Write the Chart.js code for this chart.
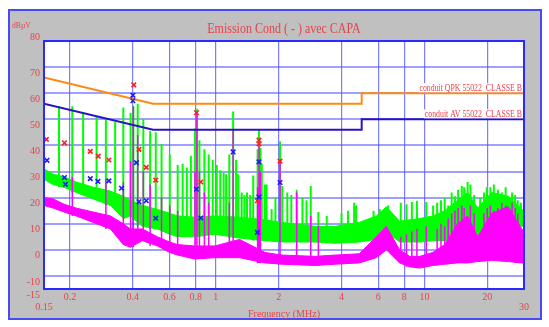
<!DOCTYPE html>
<html>
<head>
<meta charset="utf-8">
<script src="https://cdn.jsdelivr.net/npm/chart.js@4.4.1/dist/chart.umd.min.js"></script>
<style>
  html, body { margin: 0; padding: 0; background: #fff; }
  #wrap { width: 549px; height: 327px; }
</style>
</head>
<body>
<div id="wrap"><canvas id="chart" width="549" height="327"></canvas></div>
<script>
// EN 55022 class B conducted limits (dBuV)
const limitFreq = [0.15, 0.5, 5, 5, 30];
const qpkLimit = [66, 56, 56, 60, 60];
const avLimit = [56, 46, 46, 50, 50];

// measured points (MHz, dBuV)
const qpkMarkFreq = [0.154, 0.188, 0.25, 0.273, 0.307, 0.404, 0.428, 0.464, 0.515, 0.807, 0.847, 1.58, 1.61, 1.61, 2.03];
const qpkMarkVal = [42.3, 41, 37.7, 35.9, 34.4, 63.2, 38.5, 31.6, 26.7, 52.5, 26, 18.8, 42, 40.6, 34];
const avMarkFreq = [0.155, 0.188, 0.19, 0.25, 0.272, 0.307, 0.353, 0.40, 0.40, 0.416, 0.428, 0.464, 0.515, 0.807, 0.847, 1.21, 1.61, 1.61, 1.58, 2.03];
const avMarkVal = [34.3, 27.7, 25.1, 27.3, 26.2, 26.4, 23.6, 59.2, 57.1, 33.4, 18.4, 18.8, 12.1, 23.2, 12.2, 37.5, 33.7, 20.3, 6.7, 25.8];

// scan traces: noise band (low / high)
const bandFreq = [0.15, 0.166, 0.187, 0.214, 0.258, 0.312, 0.36, 0.389, 0.444, 0.525, 0.6, 0.656, 0.79, 0.99, 1.3, 1.72, 2.07, 3.0, 3.73, 4.87, 5.88, 6.57, 7.6, 8.5, 9.49, 10.96, 12.5, 14.4, 16.1, 18.0, 21.0, 25.2, 29.3, 30];
const greenHigh = [31, 29, 28, 26, 24, 22.5, 20.5, 19, 17, 15.5, 14, 13, 12.5, 13, 12.5, 11.5, 10.5, 9, 9, 10.5, 13, 16.5, 11, 11.5, 12, 13, 15, 19, 22, 16, 22, 20.5, 15.5, 15];
const greenLow = [27, 25, 24, 22, 19.5, 17, 12, 13, 9, 8, 6, 5, 5, 6, 4.5, 3.5, 3, 3, 2.5, 3, 4, 7, 3, 3, 3, 3.5, 3.5, 4, 7, 4, 9, 12, 9, 9];
const magentaHigh = [20, 19.5, 17.5, 16, 14.5, 13, 10, 8, 8, 5, 3, 2, 1.5, 1.5, 4, -1, -2, -2.5, -2, -1.5, 5, 9, 0, -2.5, -2.5, -1, 2, 10, 13, 5, 14, 16.5, 8, 7];
const magentaLow = [17, 16, 14.5, 13, 10.5, 8, 2, 1, 3.5, 1.5, -1, -2, -3.5, -3, -3, -5, -5.5, -6, -5.5, -5, -3, 0, -5, -6.5, -7, -6, -5.5, -5, -5, -4.5, -4, -4.5, -5, -5];

// harmonic spikes
const greenSpikeFreq = [0.177, 0.205, 0.231, 0.268, 0.297, 0.329, 0.36, 0.39, 0.402, 0.422, 0.449, 0.484, 0.515, 0.549, 0.601, 0.656, 0.693, 0.726, 0.759, 0.794, 0.811, 0.834, 0.881, 0.924, 0.966, 1.01, 1.05, 1.09, 1.12, 1.16, 1.21, 1.25, 1.28, 1.33, 1.37, 1.41, 1.46, 1.51, 1.585, 1.61, 1.635, 1.66, 1.72, 1.75, 1.85, 1.93, 2.03, 2.08, 2.2, 2.3, 2.44, 2.6, 2.72, 2.85, 3.1, 3.4, 4.0, 4.3, 4.6, 4.7, 5.7, 6.1, 6.7, 7.7, 8.2, 8.7, 9.2, 10.2, 11.0, 11.5, 12.0, 12.5, 13.0, 13.5, 14.0, 14.5, 15.1, 15.5, 16.1, 16.6, 17.3, 18.5, 19.3, 19.9, 20.7, 21.5, 22.5, 23.5, 24.5, 26.3, 27.2, 28.0, 29.0];
const greenSpikePeak = [55, 55, 52.5, 51, 50, 49, 54.5, 52.5, 55, 56, 50, 45.5, 45, 40.5, 36.5, 32.5, 33, 31.5, 36, 46.5, 54, 42, 38.5, 36.5, 34.5, 32.5, 30.5, 29.5, 29, 36.5, 53, 34.5, 29, 22, 21, 22, 21, 28.5, 38.5, 46, 39, 33, 25, 25, 15.6, 20, 41.5, 24.5, 22, 21, 23, 20, 19, 24.5, 14.5, 13, 14, 15, 18, 17, 15, 15.6, 17, 18, 17.5, 18.3, 18.8, 18.3, 17, 18, 19, 20, 17, 22, 20.5, 23, 24.5, 24, 26, 25, 21, 20, 22, 24, 24, 25, 23, 22, 24, 22, 21, 19, 18];
const magentaSpikeFreq = [0.205, 0.297, 0.36, 0.39, 0.402, 0.422, 0.449, 0.484, 0.549, 0.601, 0.656, 0.794, 0.811, 0.834, 0.881, 0.924, 1.16, 1.21, 1.585, 1.61, 1.635, 2.03, 2.44, 2.85, 3.1, 7.7, 8.2, 8.7, 9.2, 10.2, 11.5, 12.0, 12.5, 13.0, 13.5, 14.0, 14.5, 15.1, 15.5, 16.6, 17.3, 19.3, 20.0, 20.7, 21.5, 22.5, 23.5, 24.5, 26.3, 27.2, 28.0];
const magentaSpikePeak = [28, 27, 26, 34, 55, 44, 30, 25, 20, 17, 15, 30, 52, 30, 22, 18, 18, 46, 24, 40, 30, 34, 22, 13, 9, 5, 6, 7, 8, 9, 8, 10, 9, 12, 14, 15, 16, 17, 16, 17, 14, 14, 16, 17, 15, 16, 18, 17, 18, 16, 14];

// axes
const xTicks = [0.15, 0.2, 0.4, 0.6, 0.8, 1, 2, 4, 6, 8, 10, 20, 30];
const xTickLabels = ['0.15', '0.2', '0.4', '0.6', '0.8', '1', '2', '4', '6', '8', '10', '20', '30'];
const yTicks = [80, 70, 60, 50, 40, 30, 20, 10, 0, -10, -15];

const TITLE = 'Emission Cond ( - ) avec CAPA';
const QPK_LABEL = 'conduit QPK 55022  CLASSE B';
const AV_LABEL = 'conduit AV 55022  CLASSE B';

const RED = '#e8424a';
const GREEN = '#00ff00';
const MAGENTA = '#ff00ff';
const SERIF = '"Liberation Serif", "Times New Roman", serif';

const toPts = (xs, ys) => xs.map((x, i) => ({ x: x, y: ys[i] }));

// each spike rises from the nearest band sample up to its peak
function spikePts(freqs, peaks, low) {
    const pts = [];
    freqs.forEach((f, i) => {
        let k = 0;
        bandFreq.forEach((bf, j) => {
            if (Math.abs(Math.log(bf / f)) < Math.abs(Math.log(bandFreq[k] / f))) k = j;
        });
        pts.push({ x: f, y: low[k] }, { x: f, y: peaks[i] }, { x: f, y: null });
    });
    return pts;
}

function squeezeText(ctx, text, x, y, sx, align) {
    ctx.save();
    ctx.translate(x, y);
    ctx.scale(sx, 1);
    ctx.textAlign = align;
    ctx.fillText(text, 0, 0);
    ctx.restore();
}

const framePlugin = {
    id: 'frame',
    beforeDraw(chart) {
        const { ctx, chartArea: a } = chart;
        ctx.save();
        ctx.fillStyle = '#ffffff';
        ctx.fillRect(0, 0, chart.width, chart.height);
        ctx.fillStyle = '#c0c0c0';
        ctx.fillRect(9, 10, 532, 309);
        ctx.strokeStyle = '#4a4af2';
        ctx.lineWidth = 2;
        ctx.strokeRect(9, 10, 532, 309);
        ctx.fillStyle = '#ffffff';
        ctx.fillRect(a.left, a.top, a.right - a.left, a.bottom - a.top);

        ctx.fillStyle = RED;
        ctx.textBaseline = 'middle';
        ctx.font = '15px ' + SERIF;
        squeezeText(ctx, TITLE, (a.left + a.right) / 2, 29, 0.8, 'center');
        ctx.font = '9px ' + SERIF;
        squeezeText(ctx, 'dBµV', 12, 26, 0.85, 'left');
        ctx.restore();
    },
    afterDatasetsDraw(chart) {
        const { ctx, chartArea: a, scales: { y } } = chart;
        ctx.save();
        ctx.font = '10px ' + SERIF;
        ctx.textBaseline = 'alphabetic';
        [[QPK_LABEL, qpkLimit[qpkLimit.length - 1]], [AV_LABEL, avLimit[avLimit.length - 1]]].forEach(([txt, v]) => {
            const yy = y.getPixelForValue(v);
            const w = ctx.measureText(txt).width * 0.78;
            ctx.fillStyle = '#ffffff';
            ctx.fillRect(a.right - w - 3, yy - 10, w + 2, 9);
            ctx.fillStyle = RED;
            squeezeText(ctx, txt, a.right - 2, yy - 2, 0.78, 'right');
        });
        ctx.strokeStyle = '#2a2aff';
        ctx.lineWidth = 2;
        ctx.strokeRect(a.left, a.top, a.right - a.left, a.bottom - a.top);
        ctx.restore();
    }
};

const lineBase = { pointRadius: 0, tension: 0, spanGaps: false };

new Chart(document.getElementById('chart'), {
    type: 'line',
    data: {
        datasets: [
            { ...lineBase, data: toPts(bandFreq, greenHigh), borderColor: GREEN, backgroundColor: GREEN, borderWidth: 1, fill: '+1', order: 6 },
            { ...lineBase, data: toPts(bandFreq, greenLow), borderColor: GREEN, borderWidth: 1, fill: false, order: 6 },
            { ...lineBase, data: spikePts(greenSpikeFreq, greenSpikePeak, greenLow), borderColor: GREEN, borderWidth: 2, fill: false, order: 5 },
            { ...lineBase, data: toPts(bandFreq, magentaHigh), borderColor: MAGENTA, backgroundColor: MAGENTA, borderWidth: 1, fill: '+1', order: 4 },
            { ...lineBase, data: toPts(bandFreq, magentaLow), borderColor: MAGENTA, borderWidth: 1, fill: false, order: 4 },
            { ...lineBase, data: spikePts(magentaSpikeFreq, magentaSpikePeak, magentaLow), borderColor: MAGENTA, borderWidth: 1.5, fill: false, order: 3 },
            { ...lineBase, data: toPts(limitFreq, qpkLimit), borderColor: '#ff8a10', borderWidth: 2, fill: false, order: 2 },
            { ...lineBase, data: toPts(limitFreq, avLimit), borderColor: '#2a12c4', borderWidth: 2, fill: false, order: 2 },
            { data: toPts(qpkMarkFreq, qpkMarkVal), showLine: false, pointStyle: 'crossRot', pointRadius: 3.2, borderColor: '#ff2020', pointBorderWidth: 1.6, order: 1 },
            { data: toPts(avMarkFreq, avMarkVal), showLine: false, pointStyle: 'crossRot', pointRadius: 3.2, borderColor: '#1a1aff', pointBorderWidth: 1.6, order: 0 }
        ]
    },
    options: {
        responsive: false,
        animation: false,
        events: [],
        layout: { padding: { left: 0, top: 41, right: 25, bottom: 0 } },
        plugins: { legend: { display: false }, tooltip: { enabled: false } },
        scales: {
            x: {
                type: 'logarithmic',
                min: 0.15,
                max: 30,
                afterBuildTicks: s => { s.ticks = xTicks.map(v => ({ value: v })); },
                afterFit: s => { s.height = 38; },
                grid: { color: 'rgba(70,70,255,0.7)', lineWidth: 1.2, drawTicks: false },
                border: { display: false },
                ticks: {
                    autoSkip: false,
                    maxRotation: 0,
                    padding: 3,
                    color: RED,
                    font: { family: SERIF, size: 10, lineHeight: 1.0 },
                    callback: (v, i) => (i === 0 || i === xTicks.length - 1) ? ['', xTickLabels[i]] : xTickLabels[i]
                },
                title: {
                    display: true,
                    text: 'Frequency (MHz)',
                    color: RED,
                    font: { family: SERIF, size: 10, lineHeight: 1.2 },
                    padding: { top: 0, bottom: 7 }
                }
            },
            y: {
                min: -15,
                max: 80,
                afterBuildTicks: s => { s.ticks = yTicks.map(v => ({ value: v })); },
                afterFit: s => { s.width = 44; },
                grid: { color: 'rgba(80,80,255,0.55)', lineWidth: 2, drawTicks: false },
                border: { display: false },
                ticks: {
                    autoSkip: false,
                    padding: 4,
                    labelOffset: 6,
                    color: RED,
                    font: { family: SERIF, size: 10, lineHeight: 1.0 },
                    callback: v => v === 80 ? ['80', '', ''] : String(v)
                }
            }
        }
    },
    plugins: [framePlugin]
});
</script>
</body>
</html>
